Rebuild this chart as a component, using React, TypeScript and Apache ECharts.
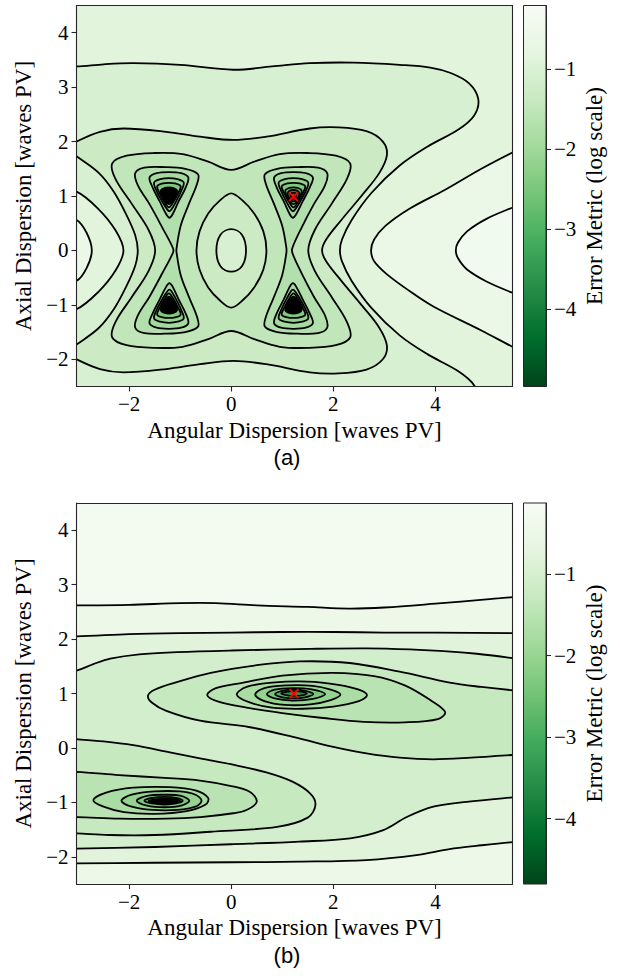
import React, { useEffect, useRef } from 'react';
import * as echarts from 'echarts';

// ---------- axes / labels ----------
const X_RANGE = [-3.03, 5.51];
const Y_RANGE = [-2.5, 4.5];
const X_TICKS = [-2, 0, 2, 4];
const Y_TICKS = [-2, -1, 0, 1, 2, 3, 4];
const CBAR_TICKS = [-4, -3, -2, -1];
const CBAR_RANGE_A = [-4.96, -0.21];
const CBAR_RANGE_B = [-4.8, -0.13];
const OPTIMUM_A = [1.22, 0.99];
const OPTIMUM_B = [1.23, 1.0];
const X_LABEL = 'Angular Dispersion [waves PV]';
const Y_LABEL = 'Axial Dispersion [waves PV]';
const CBAR_LABEL = 'Error Metric (log scale)';
const PANEL_LABELS = ['(a)', '(b)'];
const GREENS = ['#f7fcf5', '#e5f5e0', '#c7e9c0', '#a1d99b', '#74c476', '#41ab5d', '#238b45', '#006d2c', '#00441b'];

// ---------- panel (a): contour lines (data coords) ----------
const BG_LEVEL_A = -0.4;
const A_L3 = [[6.3,5.6],[6.3,1.1],[5.9,0.93],[5.49,0.78],[5.0,0.58],[4.62,0.35],[4.44,0.14],[4.4,0],[4.44,-0.14],[4.62,-0.35],[5.0,-0.57],[5.49,-0.77],[5.9,-0.92],[6.3,-1.1],[6.3,-3.6],[-3.7,-3.6],[-3.7,5.6]];
const A_L2 = [[6.3,5.6],[6.3,2.15],[5.9,1.97],[5.49,1.79],[4.9,1.5],[4.2,1.12],[3.5,0.77],[3.02,0.45],[2.8,0.2],[2.74,0],[2.8,-0.2],[3.04,-0.43],[3.5,-0.75],[3.96,-1.03],[4.9,-1.47],[5.49,-1.76],[5.9,-1.95],[6.3,-2.15],[6.3,-3.6],[-3.7,-3.6],[-3.7,-0.62],[-3.4,-0.6],[-3.03,-0.56],[-2.83,-0.32],[-2.73,0],[-2.83,0.32],[-3.03,0.56],[-3.4,0.6],[-3.7,0.62],[-3.7,5.6]];
const A_L1 = [[-3.7,3.38],[-3.03,3.38],[-2.5,3.42],[-1.92,3.44],[-1.0,3.41],[0.04,3.32],[0.8,3.38],[1.54,3.44],[2.4,3.45],[3.3,3.41],[3.9,3.36],[4.3,3.26],[4.66,3.07],[4.84,2.78],[4.76,2.48],[4.45,2.22],[3.85,1.91],[3.3,1.56],[2.75,1.06],[2.36,0.56],[2.17,0.2],[2.13,0],[2.17,-0.2],[2.36,-0.56],[2.75,-1.06],[3.3,-1.56],[3.85,-1.91],[4.45,-2.22],[4.76,-2.48],[4.84,-2.78],[4.66,-3.07],[4.3,-3.26],[3.3,-3.41],[1.54,-3.44],[0.04,-3.32],[-1.92,-3.44],[-3.03,-3.38],[-3.7,-3.38],[-3.7,-1.12],[-3.4,-1.1],[-3.03,-1.08],[-2.6,-0.76],[-2.26,-0.36],[-2.11,0],[-2.26,0.36],[-2.6,0.76],[-3.03,1.08],[-3.4,1.1],[-3.7,1.12]];
const A_L0B = [[-3.25,1.87],[-3.03,2.0],[-2.57,2.18],[-2.11,2.24],[-1.27,2.18],[-0.61,2.09],[0.04,2.03],[0.69,2.09],[1.54,2.24],[2.1,2.26],[2.65,2.19],[2.97,2.0],[3.05,1.75],[2.9,1.42],[2.55,1.0],[2.15,0.55],[1.86,0.2],[1.78,0],[1.86,-0.2],[2.15,-0.55],[2.55,-1.0],[2.9,-1.42],[3.05,-1.75],[2.97,-2.0],[2.65,-2.19],[2.1,-2.26],[1.54,-2.24],[0.69,-2.09],[0.04,-2.03],[-0.61,-2.09],[-1.27,-2.18],[-2.11,-2.24],[-2.57,-2.18],[-3.03,-2.0],[-3.25,-1.87],[-3.03,-1.73],[-2.6,-1.43],[-2.3,-1.08],[-2.05,-0.65],[-1.88,-0.28],[-1.83,0],[-1.88,0.28],[-2.05,0.65],[-2.3,1.08],[-2.6,1.43],[-3.03,1.73]];
const A_L0C = [[-2.33,1.6],[-2.05,1.74],[-1.5,1.79],[-0.95,1.77],[-0.45,1.63],[0,1.48],[0.45,1.63],[0.95,1.77],[1.5,1.79],[2.05,1.74],[2.33,1.6],[2.27,1.32],[1.97,0.86],[1.64,0.38],[1.51,0],[1.64,-0.38],[1.97,-0.86],[2.27,-1.32],[2.33,-1.6],[2.05,-1.74],[1.5,-1.79],[0.95,-1.77],[0.45,-1.63],[0,-1.48],[-0.45,-1.63],[-0.95,-1.77],[-1.5,-1.79],[-2.05,-1.74],[-2.33,-1.6],[-2.27,-1.32],[-1.95,-0.86],[-1.62,-0.38],[-1.49,0],[-1.62,0.38],[-1.95,0.86],[-2.27,1.32]];
const A_EYE = [[0,1.05],[-0.22,0.92],[-0.45,0.68],[-0.62,0.35],[-0.68,0],[-0.62,-0.35],[-0.45,-0.68],[-0.22,-0.92],[0,-1.05],[0.22,-0.92],[0.45,-0.68],[0.63,-0.35],[0.69,0],[0.63,0.35],[0.45,0.68],[0.22,0.92]];
const A_ELLIPSE = [[0,0.39],[0.21,0.29],[0.29,0],[0.21,-0.29],[0,-0.39],[-0.21,-0.29],[-0.29,0],[-0.21,0.29]];
const A_BEAN_L = [[-1.07,0.04],[-0.99,0.45],[-0.83,0.85],[-0.67,1.22],[-0.65,1.4],[-0.9,1.5],[-1.3,1.53],[-1.7,1.52],[-1.88,1.42],[-1.83,1.2],[-1.6,0.85],[-1.35,0.42],[-1.14,0.04],[-1.14,-0.04],[-1.35,-0.42],[-1.6,-0.85],[-1.83,-1.2],[-1.88,-1.42],[-1.7,-1.52],[-1.3,-1.53],[-0.9,-1.5],[-0.65,-1.4],[-0.67,-1.22],[-0.83,-0.85],[-0.99,-0.45],[-1.07,-0.04]];
const A_BEAN_R = [[1.08,0.05],[1.0,0.45],[0.84,0.85],[0.68,1.22],[0.66,1.4],[0.9,1.5],[1.3,1.53],[1.7,1.52],[1.88,1.42],[1.84,1.2],[1.62,0.85],[1.38,0.42],[1.2,0.05],[1.2,-0.05],[1.38,-0.42],[1.62,-0.85],[1.84,-1.2],[1.88,-1.42],[1.7,-1.52],[1.3,-1.53],[0.9,-1.5],[0.66,-1.4],[0.68,-1.22],[0.84,-0.85],[1.0,-0.45],[1.08,-0.05]];
// nested triangles around the four minima
const A_TR1 = [[0.84,1.34],[0.98,1.42],[1.22,1.44],[1.46,1.42],[1.6,1.34],[1.54,1.16],[1.4,0.9],[1.27,0.66],[1.21,0.6],[1.15,0.66],[1.03,0.9],[0.89,1.16]];
const A_TL1 = [[-0.84,1.34],[-0.98,1.42],[-1.22,1.44],[-1.46,1.42],[-1.6,1.34],[-1.54,1.16],[-1.4,0.9],[-1.27,0.66],[-1.21,0.6],[-1.15,0.66],[-1.03,0.9],[-0.89,1.16]];
const A_BR1 = [[0.84,-1.34],[0.98,-1.42],[1.22,-1.44],[1.46,-1.42],[1.6,-1.34],[1.54,-1.16],[1.4,-0.9],[1.27,-0.66],[1.21,-0.6],[1.15,-0.66],[1.03,-0.9],[0.89,-1.16]];
const A_BL1 = [[-0.84,-1.34],[-0.98,-1.42],[-1.22,-1.44],[-1.46,-1.42],[-1.6,-1.34],[-1.54,-1.16],[-1.4,-0.9],[-1.27,-0.66],[-1.21,-0.6],[-1.15,-0.66],[-1.03,-0.9],[-0.89,-1.16]];
const A_TR2 = [[0.93,1.25],[1.05,1.31],[1.22,1.33],[1.39,1.31],[1.51,1.25],[1.46,1.09],[1.34,0.88],[1.25,0.75],[1.21,0.72],[1.17,0.75],[1.09,0.88],[0.98,1.09]];
const A_TL2 = [[-0.93,1.25],[-1.05,1.31],[-1.22,1.33],[-1.39,1.31],[-1.51,1.25],[-1.46,1.09],[-1.34,0.88],[-1.25,0.75],[-1.21,0.72],[-1.17,0.75],[-1.09,0.88],[-0.98,1.09]];
const A_BR2 = [[0.93,-1.25],[1.05,-1.31],[1.22,-1.33],[1.39,-1.31],[1.51,-1.25],[1.46,-1.09],[1.34,-0.88],[1.25,-0.75],[1.21,-0.72],[1.17,-0.75],[1.09,-0.88],[0.98,-1.09]];
const A_BL2 = [[-0.93,-1.25],[-1.05,-1.31],[-1.22,-1.33],[-1.39,-1.31],[-1.51,-1.25],[-1.46,-1.09],[-1.34,-0.88],[-1.25,-0.75],[-1.21,-0.72],[-1.17,-0.75],[-1.09,-0.88],[-0.98,-1.09]];
const A_TR3 = [[0.99,1.18],[1.1,1.23],[1.22,1.24],[1.34,1.23],[1.45,1.18],[1.4,1.05],[1.3,0.88],[1.22,0.79],[1.14,0.88],[1.04,1.05]];
const A_TL3 = [[-0.99,1.18],[-1.1,1.23],[-1.22,1.24],[-1.34,1.23],[-1.45,1.18],[-1.4,1.05],[-1.3,0.88],[-1.22,0.79],[-1.14,0.88],[-1.04,1.05]];
const A_BR3 = [[0.99,-1.18],[1.1,-1.23],[1.22,-1.24],[1.34,-1.23],[1.45,-1.18],[1.4,-1.05],[1.3,-0.88],[1.22,-0.79],[1.14,-0.88],[1.04,-1.05]];
const A_BL3 = [[-0.99,-1.18],[-1.1,-1.23],[-1.22,-1.24],[-1.34,-1.23],[-1.45,-1.18],[-1.4,-1.05],[-1.3,-0.88],[-1.22,-0.79],[-1.14,-0.88],[-1.04,-1.05]];
const A_TR4 = [[1.06,1.1],[1.14,1.15],[1.22,1.16],[1.3,1.15],[1.38,1.1],[1.34,0.98],[1.27,0.88],[1.22,0.85],[1.17,0.88],[1.1,0.98]];
const A_TL4 = [[-1.06,1.1],[-1.14,1.15],[-1.22,1.16],[-1.3,1.15],[-1.38,1.1],[-1.34,0.98],[-1.27,0.88],[-1.22,0.85],[-1.17,0.88],[-1.1,0.98]];
const A_BR4 = [[1.06,-1.1],[1.14,-1.15],[1.22,-1.16],[1.3,-1.15],[1.38,-1.1],[1.34,-0.98],[1.27,-0.88],[1.22,-0.85],[1.17,-0.88],[1.1,-0.98]];
const A_BL4 = [[-1.06,-1.1],[-1.14,-1.15],[-1.22,-1.16],[-1.3,-1.15],[-1.38,-1.1],[-1.34,-0.98],[-1.27,-0.88],[-1.22,-0.85],[-1.17,-0.88],[-1.1,-0.98]];
const A_TR5 = [[1.11,1.06],[1.22,1.11],[1.33,1.06],[1.3,0.96],[1.22,0.9],[1.14,0.96]];
const A_TR6 = [[1.16,1.03],[1.22,1.06],[1.28,1.03],[1.26,0.97],[1.22,0.94],[1.18,0.97]];

// band levels (log error) used to colour the area inside each contour of panel (a)
const A_REGIONS = [
  { pts: A_L3, level: -0.59 },
  { pts: A_L2, level: -0.87 },
  { pts: A_L1, level: -1.06 },
  { pts: A_L0B, level: -1.3 },
  { pts: A_L0C, level: -1.5 },
  { pts: A_EYE, level: -1.3 },
  { pts: A_ELLIPSE, level: -1.06 },
  { pts: A_BEAN_L, level: -1.72 },
  { pts: A_BEAN_R, level: -1.72 },
  { pts: A_TR1, level: -1.95 }, { pts: A_TL1, level: -1.95 }, { pts: A_BR1, level: -1.95 }, { pts: A_BL1, level: -1.95 },
  { pts: A_TR2, level: -2.2 }, { pts: A_TL2, level: -2.2 }, { pts: A_BR2, level: -2.2 }, { pts: A_BL2, level: -2.2 },
  { pts: A_TR3, level: -2.45 }, { pts: A_TL3, level: -2.45 }, { pts: A_BR3, level: -2.45 }, { pts: A_BL3, level: -2.45 },
  { pts: A_TR4, level: -2.75 }, { pts: A_TL4, level: null }, { pts: A_BR4, level: null }, { pts: A_BL4, level: null },
  { pts: A_TR5, level: -3.3 },
  { pts: A_TR6, level: -4.0 },
];

// ---------- panel (b) ----------
const BG_LEVEL_B = -0.27;
const B_B1 = [[-3.7,2.62],[-3.03,2.62],[-2.0,2.63],[-1.0,2.66],[-0.3,2.66],[0.5,2.62],[1.5,2.59],[2.3,2.56],[3.0,2.58],[4.0,2.65],[5.0,2.73],[5.51,2.77],[6.3,2.82],[6.3,-3.6],[-3.7,-3.6]];
const B_B2 = [[-3.7,2.05],[-3.03,2.05],[-2.0,2.09],[-1.0,2.11],[0,2.12],[1.0,2.13],[2.0,2.13],[3.0,2.12],[4.0,2.12],[5.51,2.11],[6.3,2.11],[6.3,-1.68],[5.51,-1.73],[4.8,-1.8],[4.28,-1.86],[3.63,-1.97],[2.65,-2.06],[1.34,-2.09],[0,-2.1],[-1.5,-2.11],[-3.03,-2.12],[-3.7,-2.12]];
const B_B3 = [[-3.7,1.3],[-3.03,1.42],[-2.7,1.54],[-2.37,1.64],[-1.8,1.72],[-1.06,1.76],[0,1.79],[1.55,1.82],[2.65,1.83],[3.5,1.81],[4.3,1.77],[4.81,1.73],[5.51,1.65],[6.3,1.55],[6.3,-0.85],[5.51,-0.91],[4.61,-0.99],[3.96,-1.08],[3.44,-1.27],[2.98,-1.51],[2.33,-1.66],[1.34,-1.72],[0,-1.77],[-1.5,-1.82],[-3.03,-1.85],[-3.7,-1.86]];
const B_C = [[6.3,1.0],[5.51,1.06],[4.9,1.12],[4.28,1.2],[3.3,1.4],[2.32,1.56],[1.34,1.59],[0.5,1.52],[-0.4,1.38],[-1.1,1.2],[-1.5,1.07],[-1.63,0.96],[-1.55,0.83],[-1.27,0.68],[-0.61,0.5],[0.37,0.38],[1.35,0.17],[2.0,0.02],[2.65,-0.1],[3.3,-0.18],[3.96,-0.21],[4.7,-0.18],[5.51,-0.13],[6.3,-0.1]];
const B_LL0 = [[-3.7,0.2],[-3.03,0.16],[-2.5,0.12],[-1.92,0.05],[-1.2,-0.08],[-0.61,-0.19],[0.1,-0.32],[0.69,-0.45],[1.2,-0.62],[1.55,-0.84],[1.65,-1.05],[1.5,-1.28],[0.9,-1.45],[-0.4,-1.54],[-1.5,-1.6],[-2.4,-1.6],[-3.03,-1.57],[-3.7,-1.55]];
const B_L1 = [[-0.47,0.97],[-0.3,1.1],[0.24,1.2],[1.0,1.33],[2.0,1.38],[2.8,1.32],[3.4,1.15],[3.9,0.88],[4.19,0.66],[4.05,0.53],[3.4,0.47],[2.6,0.48],[1.8,0.55],[1.0,0.64],[0.3,0.74],[-0.25,0.85]];
const B_LL1 = [[-3.7,-0.44],[-3.03,-0.44],[-2.2,-0.5],[-1.3,-0.55],[-0.61,-0.6],[0.0,-0.7],[0.37,-0.81],[0.5,-0.99],[0.3,-1.14],[0.04,-1.2],[-0.6,-1.27],[-1.27,-1.3],[-2.2,-1.3],[-3.03,-1.27],[-3.7,-1.27]];
const B_L2 = [[0.11,0.98],[0.3,1.12],[0.8,1.2],[1.5,1.22],[2.1,1.16],[2.5,1.07],[2.66,0.97],[2.5,0.86],[2.0,0.76],[1.4,0.72],[0.8,0.74],[0.35,0.84]];
const B_LL2 = [[-2.7,-0.96],[-2.45,-0.82],[-1.92,-0.73],[-1.2,-0.72],[-0.7,-0.78],[-0.45,-0.92],[-0.5,-1.04],[-0.87,-1.16],[-1.5,-1.21],[-2.1,-1.18],[-2.5,-1.08]];
const B_L3 = [[0.47,0.98],[0.65,1.1],[1.1,1.15],[1.6,1.14],[1.95,1.07],[2.14,0.98],[1.95,0.88],[1.55,0.8],[1.05,0.79],[0.65,0.86]];
const B_LL3 = [[-2.15,-0.97],[-1.95,-0.86],[-1.5,-0.8],[-1.0,-0.8],[-0.7,-0.86],[-0.58,-0.97],[-0.7,-1.08],[-1.05,-1.14],[-1.55,-1.14],[-1.95,-1.08]];
const B_L4 = [[0.7,0.99],[0.85,1.07],[1.2,1.1],[1.55,1.08],[1.84,0.99],[1.6,0.9],[1.2,0.87],[0.85,0.91]];
const B_LL4 = [[-1.85,-0.97],[-1.65,-0.88],[-1.3,-0.86],[-0.98,-0.88],[-0.82,-0.97],[-0.98,-1.06],[-1.3,-1.09],[-1.65,-1.06]];
const B_L5 = [[0.86,0.99],[1.0,1.05],[1.23,1.07],[1.45,1.05],[1.61,0.99],[1.45,0.93],[1.23,0.91],[1.0,0.93]];
const B_LL5 = [[-1.7,-0.97],[-1.55,-0.92],[-1.3,-0.9],[-1.08,-0.92],[-0.95,-0.97],[-1.08,-1.02],[-1.3,-1.04],[-1.55,-1.02]];
const B_L6 = [[0.98,1.0],[1.1,1.035],[1.23,1.045],[1.38,1.035],[1.48,1.0],[1.38,0.965],[1.23,0.955],[1.1,0.965]];
const B_LL6 = [[-1.62,-0.975],[-1.45,-0.94],[-1.3,-0.935],[-1.12,-0.94],[-1.0,-0.975],[-1.12,-1.01],[-1.3,-1.015],[-1.45,-1.01]];

const B_REGIONS = [
  { pts: B_B1, level: -0.46 },
  { pts: B_B2, level: -0.8 },
  { pts: B_B3, level: -1.07 },
  { pts: B_C, level: -1.3 },
  { pts: B_LL0, level: -1.3 },
  { pts: B_L1, level: -1.52 },
  { pts: B_LL1, level: -1.52 },
  { pts: B_L2, level: -1.75 },
  { pts: B_LL2, level: -1.75 },
  { pts: B_L3, level: -2.05 },
  { pts: B_LL3, level: -2.05 },
  { pts: B_L4, level: -2.4 },
  { pts: B_LL4, level: -2.4 },
  { pts: B_L5, level: -2.85 },
  { pts: B_LL5, level: -2.85 },
  { pts: B_L6, level: -3.5 },
  { pts: B_LL6, level: null },
];

// ---------- helpers ----------
const SERIF = "'Liberation Serif', 'Times New Roman', Times, serif";
const SANS = "'Liberation Sans', Arial, Helvetica, sans-serif";
const AXIS_COLOR = '#262626';

function hexToRgb(h: string) {
  return [parseInt(h.slice(1, 3), 16), parseInt(h.slice(3, 5), 16), parseInt(h.slice(5, 7), 16)];
}
function greensR(v: number, lo: number, hi: number) {
  let p = 1 - (v - lo) / (hi - lo);
  p = Math.max(0, Math.min(1, p));
  const s = p * (GREENS.length - 1);
  const i = Math.min(GREENS.length - 2, Math.floor(s));
  const f = s - i;
  const a = hexToRgb(GREENS[i]);
  const b = hexToRgb(GREENS[i + 1]);
  const c = a.map((x, k) => Math.round(x + (b[k] - x) * f));
  return `rgb(${c[0]},${c[1]},${c[2]})`;
}
const minus = (v: number) => (v < 0 ? '\u2212' + Math.abs(v) : String(v));

function regionSeries(regs: any[], xi: number, yi: number, range: number[]) {
  return {
    type: 'custom',
    xAxisIndex: xi,
    yAxisIndex: yi,
    clip: true,
    silent: true,
    z: 2,
    data: regs.map(() => [0, 0]),
    renderItem: (params: any, api: any) => {
      const r = regs[params.dataIndex];
      const points = r.pts.map((p: number[]) => api.coord(p));
      return {
        type: 'polygon',
        shape: { points, smooth: 0.35 },
        style: {
          fill: r.level === null ? '#000' : greensR(r.level, range[0], range[1]),
          stroke: '#000',
          lineWidth: 1.8,
        },
      };
    },
  };
}

function markerSeries(pt: number[], xi: number, yi: number) {
  return {
    type: 'custom',
    xAxisIndex: xi,
    yAxisIndex: yi,
    silent: true,
    z: 5,
    data: [pt],
    renderItem: (_p: any, api: any) => {
      const c = api.coord([api.value(0), api.value(1)]);
      const h = 4.5;
      const st = { stroke: '#ff0000', lineWidth: 1.8 };
      return {
        type: 'group',
        children: [
          { type: 'line', shape: { x1: c[0] - h, y1: c[1] - h, x2: c[0] + h, y2: c[1] + h }, style: st },
          { type: 'line', shape: { x1: c[0] - h, y1: c[1] + h, x2: c[0] + h, y2: c[1] - h }, style: st },
        ],
      };
    },
  };
}

function colorbarSeries(xi: number, yi: number, range: number[]) {
  return {
    type: 'custom',
    xAxisIndex: xi,
    yAxisIndex: yi,
    silent: true,
    data: [[0, range[0]]],
    renderItem: (_p: any, api: any) => {
      const tl = api.coord([0, range[1]]);
      const br = api.coord([1, range[0]]);
      return {
        type: 'rect',
        shape: { x: tl[0], y: tl[1], width: br[0] - tl[0], height: br[1] - tl[1] },
        style: {
          fill: new echarts.graphic.LinearGradient(0, 0, 0, 1, GREENS.map((c, i) => ({ offset: i / (GREENS.length - 1), color: c }))),
          stroke: AXIS_COLOR,
          lineWidth: 1,
        },
      };
    },
  };
}

const tickLabel = { fontFamily: SERIF, fontSize: 21, color: '#000' };
const nameStyle = { fontFamily: SERIF, fontSize: 23, color: '#000' };

function mainX(gridIndex: number) {
  return [
    {
      type: 'value', gridIndex, position: 'bottom', min: X_RANGE[0], max: X_RANGE[1], z: 10,
      name: X_LABEL, nameLocation: 'middle', nameGap: 32, nameTextStyle: nameStyle,
      axisLine: { show: true, onZero: false, lineStyle: { color: AXIS_COLOR, width: 1.1 } },
      axisTick: { show: true, length: 5, customValues: X_TICKS, lineStyle: { color: AXIS_COLOR, width: 1.1 } },
      axisLabel: { ...tickLabel, margin: 7, customValues: X_TICKS, formatter: minus },
      splitLine: { show: false },
    },
    {
      type: 'value', gridIndex, position: 'top', min: X_RANGE[0], max: X_RANGE[1], z: 10,
      axisLine: { show: true, onZero: false, lineStyle: { color: AXIS_COLOR, width: 1.1 } },
      axisTick: { show: false }, axisLabel: { show: false }, splitLine: { show: false },
    },
  ];
}
function mainY(gridIndex: number) {
  return [
    {
      type: 'value', gridIndex, position: 'left', min: Y_RANGE[0], max: Y_RANGE[1], z: 10,
      name: Y_LABEL, nameLocation: 'middle', nameGap: 38, nameRotate: 90, nameTextStyle: nameStyle,
      axisLine: { show: true, onZero: false, lineStyle: { color: AXIS_COLOR, width: 1.1 } },
      axisTick: { show: true, length: 5, customValues: Y_TICKS, lineStyle: { color: AXIS_COLOR, width: 1.1 } },
      axisLabel: { ...tickLabel, margin: 8, customValues: Y_TICKS, formatter: minus },
      splitLine: { show: false },
    },
    {
      type: 'value', gridIndex, position: 'right', min: Y_RANGE[0], max: Y_RANGE[1], z: 10,
      axisLine: { show: true, onZero: false, lineStyle: { color: AXIS_COLOR, width: 1.1 } },
      axisTick: { show: false }, axisLabel: { show: false }, splitLine: { show: false },
    },
  ];
}
function cbarX(gridIndex: number) {
  return { type: 'value', gridIndex, min: 0, max: 1, show: false };
}
function cbarY(gridIndex: number, range: number[]) {
  return {
    type: 'value', gridIndex, position: 'right', min: range[0], max: range[1], z: 10,
    name: CBAR_LABEL, nameLocation: 'middle', nameGap: 37, nameRotate: 90, nameTextStyle: nameStyle,
    axisLine: { show: true, onZero: false, lineStyle: { color: AXIS_COLOR, width: 1 } },
    axisTick: { show: true, length: 5, customValues: CBAR_TICKS, lineStyle: { color: AXIS_COLOR, width: 1.1 } },
    axisLabel: { ...tickLabel, margin: 8, customValues: CBAR_TICKS, formatter: minus },
    splitLine: { show: false },
  };
}

export default function App() {
  const ref = useRef<HTMLDivElement>(null);
  useEffect(() => {
    if (!ref.current) return;
    const chart = echarts.init(ref.current, undefined, { renderer: 'svg' });
    const [xa0, xa1] = mainX(0);
    const [xb0, xb1] = mainX(2);
    const [ya0, ya1] = mainY(0);
    const [yb0, yb1] = mainY(2);
    chart.setOption({
      animation: false,
      backgroundColor: '#ffffff',
      grid: [
        { left: 76.5, top: 5.5, width: 436, height: 381, show: true, borderWidth: 0, backgroundColor: greensR(BG_LEVEL_A, CBAR_RANGE_A[0], CBAR_RANGE_A[1]) },
        { left: 523.5, top: 5.5, width: 22.5, height: 381 },
        { left: 76.5, top: 503, width: 436, height: 381, show: true, borderWidth: 0, backgroundColor: greensR(BG_LEVEL_B, CBAR_RANGE_B[0], CBAR_RANGE_B[1]) },
        { left: 523.5, top: 503, width: 22.5, height: 381 },
      ],
      xAxis: [xa0, xa1, cbarX(1), xb0, xb1, cbarX(3)],
      yAxis: [ya0, ya1, cbarY(1, CBAR_RANGE_A), yb0, yb1, cbarY(3, CBAR_RANGE_B)],
      series: [
        regionSeries(A_REGIONS, 0, 0, CBAR_RANGE_A),
        markerSeries(OPTIMUM_A, 0, 0),
        colorbarSeries(2, 2, CBAR_RANGE_A),
        regionSeries(B_REGIONS, 3, 3, CBAR_RANGE_B),
        markerSeries(OPTIMUM_B, 3, 3),
        colorbarSeries(5, 5, CBAR_RANGE_B),
      ],
      graphic: [
        { type: 'text', x: 287, y: 457.5, style: { text: PANEL_LABELS[0], font: `22px ${SANS}`, fill: '#000', align: 'center', verticalAlign: 'middle' } },
        { type: 'text', x: 287, y: 955, style: { text: PANEL_LABELS[1], font: `22px ${SANS}`, fill: '#000', align: 'center', verticalAlign: 'middle' } },
      ],
    });
    return () => chart.dispose();
  }, []);
  return <div ref={ref} style={{ position: 'fixed', left: 0, top: 0, width: 620, height: 976 }} />;
}
